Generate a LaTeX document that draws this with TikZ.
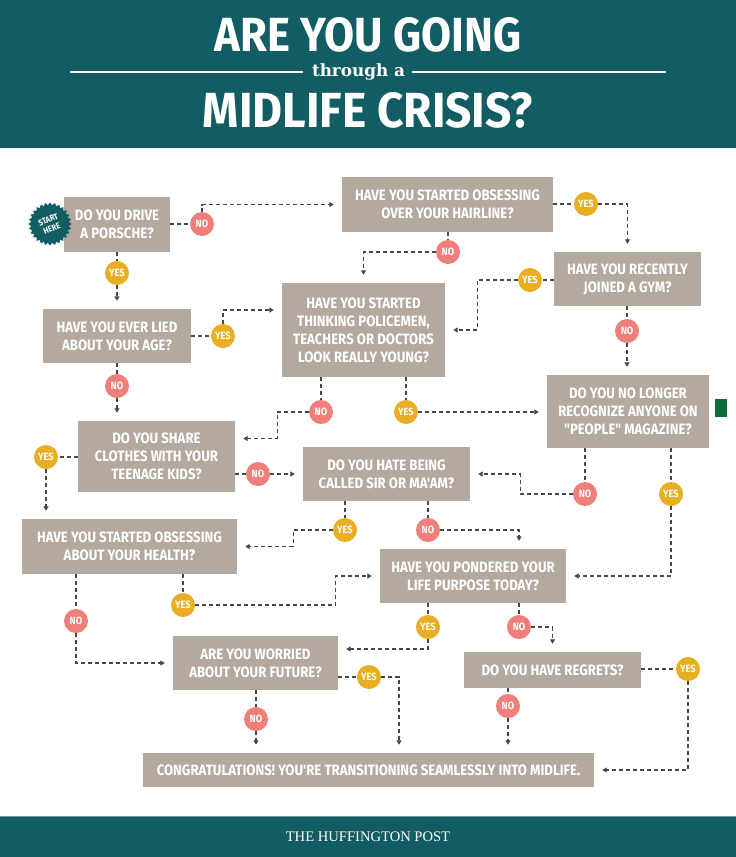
\documentclass[tikz,border=0pt]{standalone}
\usepackage{fontspec}
\usetikzlibrary{arrows.meta,shapes.geometric,calc}
\setmainfont{Fira Sans}
\newfontfamily\flowfont{Fira Sans}[FakeStretch=0.88]
\newfontfamily\slabfont{DejaVu Serif}
\newfontfamily\hpfont{Liberation Serif}
\definecolor{teal1}{HTML}{115D63}
\definecolor{boxc}{HTML}{B3A99E}
\definecolor{noc}{HTML}{F07E7B}
\definecolor{yesc}{HTML}{E9AE22}
\definecolor{linec}{HTML}{474747}
\definecolor{greenmark}{HTML}{0D6B3D}
\begin{document}
\begin{tikzpicture}[x=1pt,y=-1pt,
  qbox/.style={fill=boxc, text=white, align=center, inner sep=0pt,
    font=\flowfont\bfseries\fontsize{15}{18}\selectfont},
  nobub/.style={circle, fill=noc, text=white, minimum size=24pt, inner sep=0pt,
    font=\flowfont\bfseries\fontsize{10.5}{11}\selectfont},
  yesbub/.style={circle, fill=yesc, text=white, minimum size=24pt, inner sep=0pt,
    font=\flowfont\bfseries\fontsize{10.5}{11}\selectfont},
  dl/.style={draw=linec, line width=1.3pt, dash pattern=on 4pt off 3pt},
  arr/.style={dl, -{Triangle[length=4.5pt,width=5pt]}, shorten >=8pt}
]
\useasboundingbox (0,0) rectangle (736,857);
\fill[white] (0,0) rectangle (736,857);
% header
\fill[teal1] (0,0) rectangle (736,148);
\node[text=white, inner sep=0pt] (t1) at (368,35) {\resizebox{307pt}{34pt}{\bfseries ARE YOU GOING}};
\node[text=white, inner sep=0pt] (t2) at (358.5,72) {\resizebox{93pt}{!}{\slabfont\bfseries through a}};
\draw[white, line width=2pt] (70,72) -- (303,72);
\draw[white, line width=2pt] (412,72) -- (666,72);
\node[text=white, inner sep=0pt] (t3) at (368,110.5) {\resizebox{330pt}{35pt}{\bfseries MIDLIFE CRISIS?}};
% footer
\fill[teal1] (0,816) rectangle (736,857);
\draw[teal1!60!white, line width=0.8pt] (0,816.4) -- (736,816.4);
\node[text=white, inner sep=0pt, font=\hpfont\fontsize{14.6}{16}\selectfont] (hp) at (368,837) {THE HUFFINGTON POST};
% boxes
\node[qbox, minimum width=106pt, minimum height=55pt] (q1) at (117,224.5) {DO YOU DRIVE\\A PORSCHE?};
\node[qbox, minimum width=148pt, minimum height=54pt] (q2) at (117,336) {HAVE YOU EVER LIED\\ABOUT YOUR AGE?};
\node[qbox, minimum width=211pt, minimum height=55pt] (q3) at (447.5,204.5) {HAVE YOU STARTED OBSESSING\\OVER YOUR HAIRLINE?};
\node[qbox, minimum width=163pt, minimum height=94pt] (q4) at (363.5,330) {HAVE YOU STARTED\\THINKING POLICEMEN,\\TEACHERS OR DOCTORS\\LOOK REALLY YOUNG?};
\node[qbox, minimum width=147pt, minimum height=54pt] (q5) at (627.5,279) {HAVE YOU RECENTLY\\JOINED A GYM?};
\node[qbox, minimum width=162pt, minimum height=73pt] (q6) at (628,411.5) {DO YOU NO LONGER\\RECOGNIZE ANYONE ON\\"PEOPLE" MAGAZINE?};
\node[qbox, minimum width=157pt, minimum height=71pt] (q7) at (156.5,456.5) {DO YOU SHARE\\CLOTHES WITH YOUR\\TEENAGE KIDS?};
\node[qbox, minimum width=167pt, minimum height=54pt] (q8) at (386.5,474) {DO YOU HATE BEING\\CALLED SIR OR MA'AM?};
\node[qbox, minimum width=215pt, minimum height=55pt] (q9) at (129.5,546.5) {HAVE YOU STARTED OBSESSING\\ABOUT YOUR HEALTH?};
\node[qbox, minimum width=186pt, minimum height=54pt] (q10) at (473,576) {HAVE YOU PONDERED YOUR\\LIFE PURPOSE TODAY?};
\node[qbox, minimum width=165pt, minimum height=54pt] (q11) at (255.5,663) {ARE YOU WORRIED\\ABOUT YOUR FUTURE?};
\node[qbox, minimum width=177pt, minimum height=36pt] (q12) at (552.5,670) {DO YOU HAVE REGRETS?};
\node[qbox, minimum width=451pt, minimum height=34pt] (q13) at (368.5,770) {CONGRATULATIONS! YOU'RE TRANSITIONING SEAMLESSLY INTO MIDLIFE.};
% green mark
\fill[greenmark] (715,399) rectangle (727,417);
% start badge
\node[star, star points=28, star point ratio=1.14, fill=teal1, minimum size=43pt, inner sep=0pt] (start) at (50,224) {};
\node[rotate=22, text=white, align=center, inner sep=0pt, font=\flowfont\bfseries\fontsize{8.5}{9.5}\selectfont] (starttxt) at (start.center) {START\\HERE};
% bubbles
\node[nobub] (n1) at (202,224) {NO};
\node[yesbub] (y1) at (117,273) {YES};
\node[yesbub] (y2) at (223,336) {YES};
\node[yesbub] (y3) at (586,204) {YES};
\node[nobub] (n3) at (448,252) {NO};
\node[yesbub] (y5) at (530,280) {YES};
\node[nobub] (n5) at (627,331) {NO};
\node[nobub] (n4) at (321,412) {NO};
\node[yesbub] (y4) at (406,412) {YES};
\node[nobub] (n2) at (117,386) {NO};
\node[yesbub] (y7) at (46,457) {YES};
\node[nobub] (n7) at (258,474) {NO};
\node[nobub] (n6) at (585,494) {NO};
\node[yesbub] (y6) at (671,494) {YES};
\node[yesbub] (y8) at (345,530) {YES};
\node[nobub] (n8) at (428,530) {NO};
\node[yesbub] (y9) at (183,605) {YES};
\node[nobub] (n9) at (76,621) {NO};
\node[yesbub] (y10) at (428,627) {YES};
\node[nobub] (n10) at (519,627) {NO};
\node[yesbub] (y11) at (369,677) {YES};
\node[nobub] (n11) at (256,719) {NO};
\node[yesbub] (y12) at (688,669) {YES};
\node[nobub] (n12) at (508,706) {NO};
% connectors
\draw[dl] (q1.east |- n1) -- (n1);
\draw[arr] (n1) |- (q3.west);
\draw[dl] (q1.south -| y1) -- (y1);
\draw[arr] (y1) -- (y1 |- q2.north);
\draw[dl] (q2.east |- y2) -- (y2);
\draw[arr] (y2) |- ([yshift=20pt]q4.west);
\draw[dl] (q3.east |- y3) -- (y3);
\draw[arr] (y3) -| (q5.north);
\draw[dl] (q3.south -| n3) -- (n3);
\draw[arr] (n3) -| (q4.north);
\draw[dl] (q5.west |- y5) -- (y5);
\draw[arr] (y5) -| ([xshift=32pt]q4.east) -- (q4.east);
\draw[dl] (q5.south -| n5) -- (n5);
\draw[arr] (n5) -- (n5 |- q6.north);
\draw[dl] (q4.south -| n4) -- (n4);
\draw[arr] (n4) -| ([xshift=42pt,yshift=18pt]q7.east) -- ([yshift=18pt]q7.east);
\draw[dl] (q4.south -| y4) -- (y4);
\draw[arr] (y4) -- (y4 -| q6.west);
\draw[dl] (q2.south -| n2) -- (n2);
\draw[arr] (n2) -- (n2 |- q7.north);
\draw[dl] (q7.west |- y7) -- (y7);
\draw[arr] (y7) -- (y7 |- q9.north);
\draw[dl] (q7.east |- n7) -- (n7);
\draw[arr] (n7) -- (n7 -| q8.west);
\draw[dl] (q6.south -| n6) -- (n6);
\draw[arr] (n6) -| ([xshift=50pt]q8.east) -- (q8.east);
\draw[dl] (q6.south -| y6) -- (y6);
\draw[arr] (y6) |- (q10.east);
\draw[dl] (q8.south -| y8) -- (y8);
\draw[arr] (y8) -| ([xshift=56pt]q9.east) -- (q9.east);
\draw[dl] (q8.south -| n8) -- (n8);
\draw[arr] (n8) -| ([xshift=46pt]q10.north);
\draw[dl] (q9.south -| y9) -- (y9);
\draw[arr] (y9) -| ([xshift=-44pt]q10.west) -- (q10.west);
\draw[dl] (q9.south -| n9) -- (n9);
\draw[arr] (n9) |- (q11.west);
\draw[dl] (q10.south -| y10) -- (y10);
\draw[arr] (y10) |- ([yshift=14pt]q11.east);
\draw[dl] (q10.south -| n10) -- (n10);
\draw[arr] (n10) -| (q12.north);
\draw[dl] (q11.east |- y11) -- (y11);
\draw[arr] (y11) -| ([xshift=30.5pt]q13.north);
\draw[dl] (q11.south -| n11) -- (n11);
\draw[arr] (n11) -- (n11 |- q13.north);
\draw[dl] (q12.east |- y12) -- (y12);
\draw[arr] (y12) |- (q13.east);
\draw[dl] (q12.south -| n12) -- (n12);
\draw[arr] (n12) -- (n12 |- q13.north);
\end{tikzpicture}
\end{document}
